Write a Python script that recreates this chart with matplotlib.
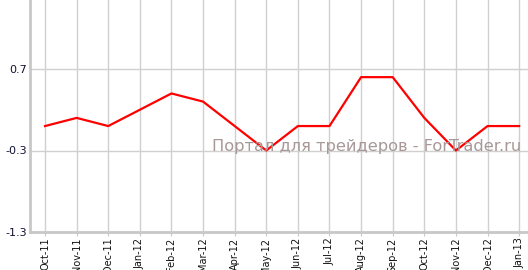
import matplotlib
matplotlib.use("Agg")
import matplotlib.pyplot as plt

# данные графика
months = ["Oct-11", "Nov-11", "Dec-11", "Jan-12", "Feb-12", "Mar-12", "Apr-12", "May-12",
          "Jun-12", "Jul-12", "Aug-12", "Sep-12", "Oct-12", "Nov-12", "Dec-12", "Jan-13"]
values = [0.0, 0.1, 0.0, 0.2, 0.4, 0.3, 0.0, -0.3, 0.0, 0.0, 0.6, 0.6, 0.1, -0.3, 0.0, 0.0]
yticks = [0.7, -0.3, -1.3]

fig = plt.figure(figsize=(5.28, 2.70), dpi=100)
ax = fig.add_axes([30 / 528, 38 / 270, 1 - 30 / 528, 232 / 270])

x = list(range(len(months)))
ax.plot(x, values, color="#ff0000", linewidth=1.6, zorder=3)

ax.set_xlim(-0.475, len(months) - 1 + 0.28)
ax.set_ylim(-1.3, 0.7 + 69 / 81.5)

ax.set_xticks(x)
ax.set_xticklabels(months, rotation=90, fontsize=7, color="#111111")
ax.set_yticks(yticks)
ax.set_yticklabels([str(v) for v in yticks], fontsize=8, color="#111133")

ax.grid(True, color="#d0d0d0", linewidth=1)
ax.set_axisbelow(True)

for side in ["top", "right"]:
    ax.spines[side].set_visible(False)
for side in ["left", "bottom"]:
    ax.spines[side].set_color("#c8c8c8")
    ax.spines[side].set_linewidth(2)

ax.tick_params(axis="x", length=3, color="#c8c8c8", pad=1)
ax.tick_params(axis="y", length=0, pad=2)

# водяной знак
fig.text(212 / 528, 1 - 146 / 270, "Портал для трейдеров - ForTrader.ru",
         fontsize=11.7, color="#a89898", va="center", ha="left")

fig.savefig("out.png", dpi=100)
